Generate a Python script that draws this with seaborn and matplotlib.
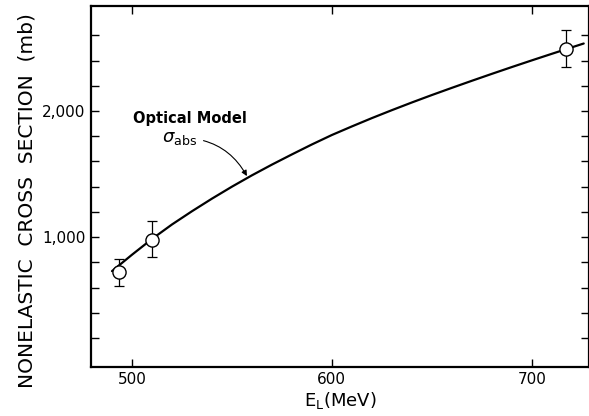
"""Nonelastic cross section vs lab energy"""

import matplotlib
matplotlib.use("Agg")
import matplotlib.pyplot as plt
import matplotlib.ticker as mticker
import seaborn as sns
import pandas as pd

# measured points (MeV, mb)
energy = [493.5, 510, 717]
sigma = [720, 980, 2490]
err_lo = [110, 140, 140]
err_hi = [110, 150, 150]

# optical model curve
model_e = [490, 500, 510, 520, 530, 540, 550, 560, 570, 580, 590, 600, 610, 620,
           630, 640, 650, 660, 670, 680, 690, 700, 710, 717, 726]
model_s = [730, 860, 985, 1100, 1205, 1305, 1400, 1490, 1575, 1656, 1735, 1810, 1878, 1944,
           2007, 2068, 2127, 2184, 2240, 2295, 2349, 2402, 2454, 2490, 2536]

y_ticks = list(range(200, 2700, 200))
x_ticks = [500, 600, 700]

sns.set_style("white")
plt.rcParams["font.family"] = ["DejaVu Sans"]
plt.rcParams["text.color"] = "black"
plt.rcParams["axes.labelcolor"] = "black"

fig = plt.figure(figsize=(5.89, 4.16), dpi=100)
ax = fig.add_axes([0.1545, 0.118, 0.845, 0.868])

curve = pd.DataFrame({"e": model_e, "s": model_s})
sns.lineplot(data=curve, x="e", y="s", color="black", linewidth=1.6, ax=ax)

ax.errorbar(energy, sigma, yerr=[err_lo, err_hi], fmt="none", ecolor="black",
            elinewidth=0.9, capsize=3.5, capthick=0.9, zorder=3)
sns.scatterplot(x=energy, y=sigma, s=90, facecolor="white", edgecolor="black",
                linewidth=1.0, zorder=4, ax=ax)

ax.set_xlim(479.5, 728.5)
ax.set_ylim(-30, 2835)

ax.xaxis.set_major_locator(mticker.FixedLocator(x_ticks))
ax.yaxis.set_major_locator(mticker.FixedLocator(y_ticks))
ax.yaxis.set_major_formatter(
    mticker.FuncFormatter(lambda v, p: f"{int(v):,}" if v in (1000, 2000) else ""))
ax.tick_params(direction="in", length=6, width=1.0, top=True, right=True,
               bottom=True, left=True, labelsize=11, pad=4,
               colors="black", labelcolor="black")

for sp in ax.spines.values():
    sp.set_linewidth(1.6)
    sp.set_color("black")

ax.set_xlabel(r"E$_\mathregular{L}$(MeV)", fontsize=13, labelpad=2)
ax.set_ylabel("NONELASTIC  CROSS  SECTION  (mb)", fontsize=14.5)
ax.yaxis.set_label_coords(-0.11, 0.46)

ax.text(529, 1944, "Optical Model", fontsize=10.5, fontweight="bold",
        ha="center", va="center")
ax.annotate(r"$\sigma_{\mathregular{abs}}$", xy=(557.5, 1484), xytext=(524, 1786),
            fontsize=13, ha="center", va="center",
            arrowprops=dict(arrowstyle="-|>", color="black", lw=0.8,
                            connectionstyle="arc3,rad=-0.3",
                            shrinkA=2, shrinkB=0, mutation_scale=8))

fig.savefig("out.png", dpi=100, facecolor="white")
